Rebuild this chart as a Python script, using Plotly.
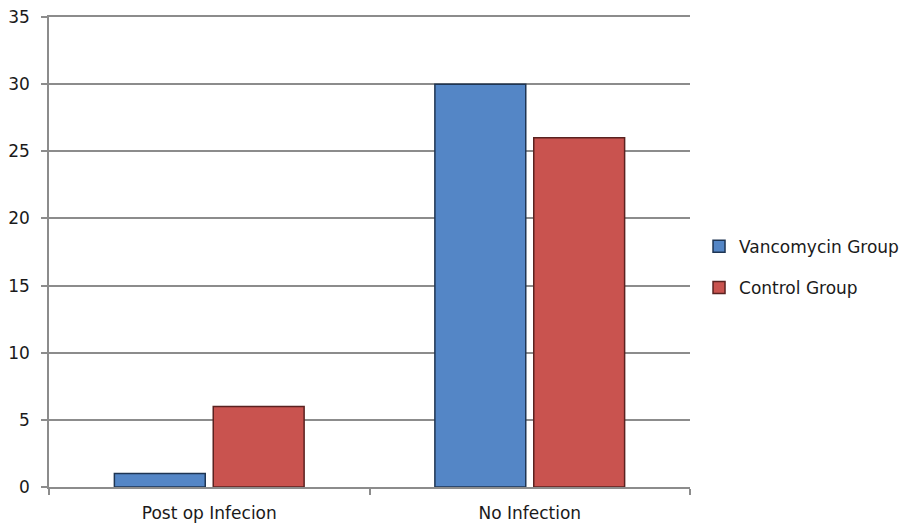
import plotly.graph_objects as go

categories = ["Post op Infecion", "No Infection"]
vancomycin = [1, 30]
control = [6, 26]
y_ticks = [0, 5, 10, 15, 20, 25, 30, 35]

font_family = "DejaVu Sans, Verdana, sans-serif"
grid_color = "#8c8c8c"
text_color = "#1a1a1a"

fig = go.Figure()
fig.add_trace(go.Bar(
    x=categories, y=vancomycin, name="Vancomycin Group",
    marker=dict(color="#5486c6", line=dict(color="#1e3553", width=1.5)),
    legendgroup="a",
))
fig.add_trace(go.Bar(
    x=categories, y=control, name="Control Group",
    marker=dict(color="#c9534f", line=dict(color="#5a2220", width=1.5)),
    legendgroup="b",
))

fig.update_layout(
    width=909, height=524,
    margin=dict(l=49, r=219, t=17, b=37),
    paper_bgcolor="white", plot_bgcolor="white",
    barmode="group", bargap=0.383, bargroupgap=0.081,
    font=dict(family=font_family, size=17, color=text_color),
    showlegend=True,
    legend=dict(
        xref="container", yref="container",
        x=0.769, xanchor="left", y=0.49, yanchor="middle",
        font=dict(size=17, color=text_color),
        tracegroupgap=16, traceorder="grouped",
        bgcolor="rgba(0,0,0,0)",
    ),
    xaxis=dict(
        showgrid=False, showline=True, linecolor=grid_color, linewidth=1.5,
        mirror=True,
        ticks="outside", tickson="boundaries", ticklen=6, tickcolor=grid_color,
        tickwidth=1.5, tickfont=dict(size=17), ticklabelstandoff=10,
        automargin=False, fixedrange=True,
    ),
    yaxis=dict(
        range=[0, 35], tickvals=y_ticks, showgrid=True, gridcolor=grid_color,
        gridwidth=1.5, showline=True, linecolor=grid_color, linewidth=1.5,
        ticks="outside", ticklen=6, tickcolor=grid_color, tickwidth=1.5,
        tickfont=dict(size=17), ticklabelstandoff=8, zeroline=False,
        automargin=False,
    ),
)

fig.write_html("out.html")
